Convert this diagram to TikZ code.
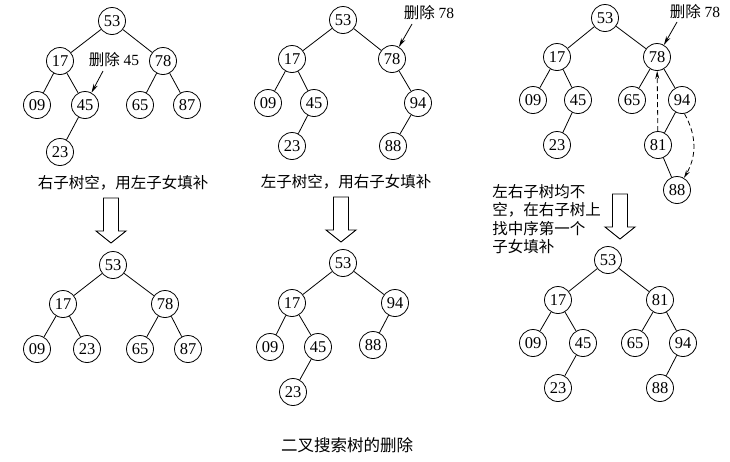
\documentclass[tikz,border=0pt]{standalone}
\usepackage{fontspec}
\setmainfont{Liberation Serif}
\newfontfamily\cjk{Noto Sans CJK SC}
\usepackage{tikz}
\usetikzlibrary{arrows.meta}

\begin{document}
\begin{tikzpicture}[
 x=1pt,y=-1pt,line width=0.8pt,
 knode/.style={circle,draw,minimum size=27pt,inner sep=0pt,font=\fontsize{16.5}{16.5}\selectfont},
 tag/.style={inner sep=1pt,font=\fontsize{15.5}{15.5}\selectfont},
 caption/.style={inner sep=0pt,font=\cjk\fontsize{15.5}{18.4}\selectfont,align=left},
 hollow/.style={draw,line width=0.9pt,line join=miter},
 del/.style={-{Stealth[length=9pt,width=4.5pt]}},
 move/.style={dash pattern=on 5pt off 3pt,-{Stealth[length=8pt,width=4pt]}}
]
\useasboundingbox (0,0) rectangle (730,461);

% panel A: right subtree empty
\node[knode] (a53) at (112,21) {53};
\node[knode] (a17) at (60,61) {17};
\node[knode] (a78) at (163,61) {78};
\node[knode] (a09) at (37,105) {09};
\node[knode] (a45) at (85,105) {45};
\node[knode] (a65) at (140,105) {65};
\node[knode] (a87) at (187,105) {87};
\node[knode] (a23) at (60,152) {23};
\node[tag] (la) at (114,60) {{\cjk 删除} 45};
\coordinate (la0) at (103,71);
\draw[del] (la0) -- (a45);
\node[caption] (capa) at (123,183) {右子树空，用左子女填补};

\node[knode] (d53) at (113,265) {53};
\node[knode] (d17) at (63,304) {17};
\node[knode] (d78) at (165,304) {78};
\node[knode] (d09) at (37,349) {09};
\node[knode] (d23) at (87,349) {23};
\node[knode] (d65) at (140,349) {65};
\node[knode] (d87) at (188,349) {87};

% panel B: left subtree empty
\node[knode] (b53) at (343,20) {53};
\node[knode] (b17) at (292,59) {17};
\node[knode] (b78) at (392,59) {78};
\node[knode] (b09) at (268,103) {09};
\node[knode] (b45) at (314,103) {45};
\node[knode] (b94) at (418,103) {94};
\node[knode] (b23) at (292,146) {23};
\node[knode] (b88) at (393,146) {88};
\node[tag] (lb) at (429,13) {{\cjk 删除} 78};
\coordinate (lb0) at (412,24);
\draw[del] (lb0) -- (b78);
\node[caption] (capb) at (346,182) {左子树空，用右子女填补};

\node[knode] (e53) at (343,263) {53};
\node[knode] (e17) at (292,303) {17};
\node[knode] (e94) at (395,303) {94};
\node[knode] (e09) at (270,347) {09};
\node[knode] (e45) at (318,347) {45};
\node[knode] (e88) at (373,345) {88};
\node[knode] (e23) at (293,392) {23};

% panel C: both subtrees present
\node[knode] (c53) at (605,18) {53};
\node[knode] (c17) at (557,57) {17};
\node[knode] (c78) at (657,57) {78};
\node[knode] (c09) at (533,100) {09};
\node[knode] (c45) at (578,100) {45};
\node[knode] (c65) at (632,100) {65};
\node[knode] (c94) at (682,100) {94};
\node[knode] (c23) at (557,145) {23};
\node[knode] (c81) at (658,145) {81};
\node[knode] (c88) at (677,190) {88};
\node[tag] (lc) at (695,12) {{\cjk 删除} 78};
\coordinate (lc0) at (677,22);
\draw[del] (lc0) -- (c78);
\draw[move] (c81) -- (c78);
\draw[move] (c94.-80) to[bend left=30] (c88.60);
\node[caption,anchor=north west] (capc) at (492,184) {左右子树均不\\空，在右子树上\\找中序第一个\\子女填补};

\node[knode] (f53) at (608,260) {53};
\node[knode] (f17) at (558,300) {17};
\node[knode] (f81) at (660,300) {81};
\node[knode] (f09) at (533,343) {09};
\node[knode] (f45) at (583,343) {45};
\node[knode] (f65) at (635,343) {65};
\node[knode] (f94) at (683,343) {94};
\node[knode] (f23) at (558,388) {23};
\node[knode] (f88) at (660,388) {88};

\foreach \a/\b in {a53/a17,a53/a78,a17/a09,a17/a45,a45/a23,a78/a65,a78/a87,
 d53/d17,d53/d78,d17/d09,d17/d23,d78/d65,d78/d87,
 b53/b17,b53/b78,b17/b09,b17/b45,b45/b23,b78/b94,b94/b88,
 e53/e17,e53/e94,e17/e09,e17/e45,e45/e23,e94/e88,
 c53/c17,c53/c78,c17/c09,c17/c45,c45/c23,c78/c65,c78/c94,c94/c81,c81/c88,
 f53/f17,f53/f81,f17/f09,f17/f45,f45/f23,f81/f65,f81/f94,f94/f88}
 \draw (\a) -- (\b);

% hollow arrows between the trees
\foreach \x/\y in {111/198,341/197,620/194}
 \draw[hollow] (\x-7.5,\y) -- ++(0,33) -- ++(-7.5,0) -- ++(15,12) -- ++(15,-12)
  -- ++(-7.5,0) -- ++(0,-33) -- cycle;

\node[caption,font=\cjk\fontsize{16.5}{18}\selectfont] (title) at (347,445) {二叉搜索树的删除};
\end{tikzpicture}
\end{document}
